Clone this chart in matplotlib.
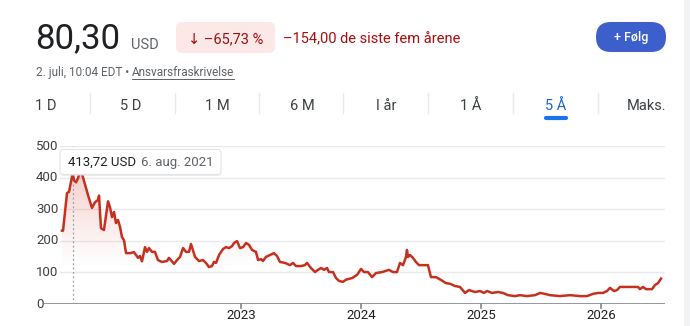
import matplotlib
matplotlib.use("Agg")
import matplotlib.pyplot as plt
from matplotlib.patches import FancyBboxPatch, Rectangle
from matplotlib.path import Path
from matplotlib.patches import PathPatch
import numpy as np

plt.rcParams["font.family"] = ["Roboto", "DejaVu Sans"]

# price history, decimal years vs USD
dates = [2021.508, 2021.517, 2021.550, 2021.567, 2021.597, 2021.608, 2021.625, 2021.642, 2021.658, 2021.675,
         2021.725, 2021.758, 2021.783, 2021.808, 2021.817, 2021.833, 2021.858, 2021.892, 2021.908, 2021.925,
         2021.942, 2021.958, 2021.975, 2021.992, 2022.008, 2022.025, 2022.042, 2022.075, 2022.108, 2022.142,
         2022.158, 2022.175, 2022.200, 2022.217, 2022.233, 2022.258, 2022.283, 2022.308, 2022.342, 2022.383,
         2022.400, 2022.442, 2022.467, 2022.492, 2022.517, 2022.542, 2022.567, 2022.583, 2022.617, 2022.650,
         2022.683, 2022.708, 2022.733, 2022.758, 2022.775, 2022.792, 2022.817, 2022.850, 2022.875, 2022.900,
         2022.925, 2022.942, 2022.967, 2022.992, 2023.017, 2023.042, 2023.067, 2023.092, 2023.125, 2023.142,
         2023.167, 2023.183, 2023.208, 2023.242, 2023.275, 2023.300, 2023.325, 2023.367, 2023.408, 2023.433,
         2023.458, 2023.500, 2023.533, 2023.550, 2023.583, 2023.617, 2023.642, 2023.667, 2023.692, 2023.717,
         2023.733, 2023.767, 2023.792, 2023.817, 2023.850, 2023.875, 2023.925, 2023.967, 2024.000, 2024.025,
         2024.058, 2024.092, 2024.125, 2024.175, 2024.233, 2024.267, 2024.300, 2024.325, 2024.350, 2024.375,
         2024.383, 2024.392, 2024.408, 2024.433, 2024.458, 2024.483, 2024.558, 2024.583, 2024.625, 2024.667,
         2024.708, 2024.742, 2024.783, 2024.825, 2024.867, 2024.900, 2024.950, 2024.992, 2025.025, 2025.050,
         2025.092, 2025.142, 2025.183, 2025.225, 2025.283, 2025.325, 2025.383, 2025.450, 2025.492, 2025.533,
         2025.575, 2025.658, 2025.742, 2025.825, 2025.883, 2025.933, 2025.975, 2026.017, 2026.050, 2026.075,
         2026.108, 2026.133, 2026.158, 2026.200, 2026.267, 2026.308, 2026.325, 2026.350, 2026.375, 2026.425,
         2026.450, 2026.475, 2026.500]
prices = [232, 232, 351, 355, 413.72, 392, 385, 398, 420, 412,
          345, 304, 322, 329, 343, 240, 234, 325, 307, 275,
          291, 256, 266, 244, 212, 202, 161, 161, 164, 146,
          152, 135, 180, 165, 177, 165, 165, 139, 133, 136,
          146, 127, 139, 149, 177, 165, 165, 190, 149, 136,
          139, 130, 117, 120, 133, 130, 155, 174, 180, 177,
          183, 193, 199, 177, 180, 193, 187, 171, 165, 139,
          142, 136, 149, 155, 161, 152, 133, 130, 123, 130,
          120, 120, 123, 130, 114, 101, 108, 114, 108, 114,
          101, 101, 82, 73, 70, 77, 82, 92, 111, 101,
          101, 85, 98, 101, 108, 101, 101, 130, 123, 149,
          171, 149, 155, 146, 133, 123, 123, 85, 85, 76,
          66, 64, 57, 54, 35, 44, 38, 41, 35, 41,
          35, 38, 35, 28, 25, 28, 25, 28, 35, 32,
          28, 25, 28, 25, 25, 32, 35, 35, 41, 51,
          41, 44, 54, 54, 54, 54, 47, 54, 47, 47,
          60, 66, 80.3]

year_ticks = [2023, 2024, 2025, 2026]
y_ticks = [0, 100, 200, 300, 400, 500]
tabs = ["1 D", "5 D", "1 M", "6 M", "I år", "1 Å", "5 Å", "Maks."]
hover_date = 2021.597
hover_text = ("413,72 USD", "6. aug. 2021")

W, H = 690, 326
RED = "#c5301f"
DARK = "#202124"
GREY = "#5f6368"

fig = plt.figure(figsize=(W / 100, H / 100), dpi=100, facecolor="white")

# chart axes placed in pixel terms: x 44..665, y 146..304
x0, x1, ytop, ybot = 44, 665, 146, 304
ax = fig.add_axes([x0 / W, (H - ybot) / H, (x1 - x0) / W, (ybot - ytop) / H])
ax.set_xlim(2023 - (241 - x0) / 120, 2026 + (x1 - 601) / 120)
ax.set_ylim(0, 500)
ax.axis("off")

xl = ax.get_xlim()
grid_start = (60 - x0) / (x1 - x0)
for v in y_ticks[1:]:
    ax.axhline(v, xmin=grid_start, xmax=1, color="#e8eaed", lw=1, zorder=1)
ax.axhline(0, color="#80868b", lw=1.2, zorder=3)
for yr in year_ticks:
    ax.plot([yr, yr], [0, -14], color="#80868b", lw=1.2, clip_on=False, zorder=3)
    ax.text(yr, -35, str(yr), ha="center", va="center", fontsize=9.5, color=DARK)
for v in y_ticks:
    ax.text(xl[0] - 8 / 120, v, str(v), ha="left", va="center", fontsize=9.5, color="#3c4043")

# gradient fill under the line
grad = np.zeros((200, 2, 4))
rgb = matplotlib.colors.to_rgb("#e06055")
levels = np.linspace(500, 0, 200)
grad[:, :, :3] = rgb
grad[:, :, 3] = (np.clip((levels - 110) / 310, 0, 1) ** 1.2 * 0.32)[:, None]
img = ax.imshow(grad, extent=[xl[0], xl[1], 0, 500], aspect="auto", zorder=2, interpolation="bilinear")
verts = [(dates[0], 0)] + list(zip(dates, prices)) + [(dates[-1], 0), (dates[0], 0)]
clip = PathPatch(Path(verts), transform=ax.transData, facecolor="none", edgecolor="none")
ax.add_patch(clip)
img.set_clip_path(clip)

ax.plot(dates, prices, color=RED, lw=1.8, zorder=4, solid_joinstyle="round")
ax.axvline(hover_date, ymin=0, ymax=1, color="#9aa0a6", lw=0.9, ls=(0, (1.5, 2)), zorder=3)

# overlay axes in pixel coordinates for the page furniture
ov = fig.add_axes([0, 0, 1, 1], facecolor="none")
ov.set_xlim(0, W)
ov.set_ylim(H, 0)
ov.axis("off")

# tooltip
ov.add_patch(FancyBboxPatch((61, 151), 160, 25, boxstyle="round,pad=0,rounding_size=3",
                            facecolor="#dadce0", edgecolor="none", alpha=0.5))
ov.add_patch(FancyBboxPatch((60, 149.5), 161, 25, boxstyle="round,pad=0,rounding_size=3",
                            facecolor="white", edgecolor="#e3e3e3", lw=0.8))
ov.text(68, 162.5, hover_text[0], fontsize=9.5, color=DARK, va="center", ha="left")
ov.text(141, 162.5, hover_text[1], fontsize=9.5, color=GREY, va="center", ha="left")

# header
ov.text(35, 48, "80,30", fontsize=25, color=DARK, va="baseline", ha="left")
ov.text(131, 49, "USD", fontsize=10.5, color=GREY, va="baseline", ha="left")
ov.add_patch(FancyBboxPatch((176, 22), 99, 31, boxstyle="round,pad=0,rounding_size=6",
                            facecolor="#fce8e6", edgecolor="none"))
ov.text(225.5, 43, "↓ –65,73 %", fontsize=10.5, color="#a50e0e", va="baseline", ha="center")
ov.text(283, 43, "–154,00 de siste fem årene", fontsize=10.5, color="#a50e0e", va="baseline", ha="left")
ov.add_patch(FancyBboxPatch((596, 22), 70, 30, boxstyle="round,pad=0,rounding_size=15",
                            facecolor="#3c5fcb", edgecolor="none"))
ov.text(631, 37.5, "+ Følg", fontsize=9, color="white", va="center", ha="center", fontweight="medium")
ov.text(36, 76, "2. juli, 10:04 EDT •", fontsize=8.5, color=GREY, va="baseline", ha="left")
ov.text(132, 76, "Ansvarsfraskrivelse", fontsize=8.5, color=GREY, va="baseline", ha="left")
ov.plot([132, 234], [78.5, 78.5], color=GREY, lw=0.7)

# range tabs
tab_x = [46, 131, 217, 302, 386, 471, 556, 647]
for lab, tx in zip(tabs, tab_x):
    ov.text(tx, 110, lab, fontsize=10.5, color="#1a66d2" if lab == "5 Å" else "#3c4043",
            va="baseline", ha="center")
for sx in [90, 175, 259, 343, 428, 513, 598]:
    ov.plot([sx, sx], [93, 113], color="#e8eaed", lw=1)
ov.plot([546, 566], [117.5, 117.5], color="#1a73e8", lw=3, solid_capstyle="round")

# cut-off side panel at the right edge
ov.add_patch(Rectangle((684, 0), 6, H, facecolor="#f1f3f4", edgecolor="none"))

fig.savefig("out.png", dpi=100, facecolor="white")
